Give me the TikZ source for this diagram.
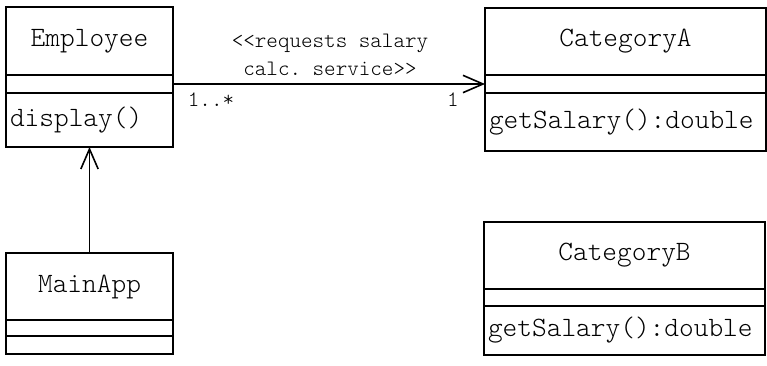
\documentclass[tikz,border=0pt]{standalone}
\usepackage{fontspec}
\setmonofont{Latin Modern Mono Light}
\usetikzlibrary{arrows.meta,positioning}
\tikzset{
  umlhead/.style={draw, line width=1.2pt, inner sep=0pt, outer sep=0pt,
    anchor=north west, font=\ttfamily\fontsize{21}{24}\selectfont},
  umlpart/.style={draw, line width=1.2pt, inner sep=0pt, outer sep=0pt,
    below=0pt of #1},
  umlops/.style={draw, line width=1.2pt, inner ysep=0pt, inner xsep=3pt,
    outer sep=0pt, align=left, below=0pt of #1,
    font=\ttfamily\fontsize{21}{24}\selectfont},
  umllabel/.style={font=\ttfamily\fontsize{16.5}{19}\selectfont, inner sep=0pt},
  umlarrow/.style={line width=1.2pt, -{Straight Barb[length=15pt,width=13pt,line width=1.2pt]}}
}
\begin{document}
\begin{tikzpicture}[x=0.75pt,y=-0.75pt]
  \useasboundingbox (0,0) rectangle (767,366);

  % Drawing class Employee
  \node [umlhead, minimum width=125.25pt, minimum height=51pt] (emp) at (6,7) {Employee};
  \node [umlpart=emp, minimum width=125.25pt, minimum height=13.5pt] (emp-attr) {};
  \node [umlops=emp-attr, text width=119.25pt, minimum height=40.5pt] (emp-ops) {display()};

  % Drawing class MainApp
  \node [umlhead, minimum width=125.25pt, minimum height=50.25pt] (app) at (6,253) {MainApp};
  \node [umlpart=app, minimum width=125.25pt, minimum height=12pt] (app-attr) {};
  \node [umlpart=app-attr, minimum width=125.25pt, minimum height=13.5pt] (app-ops) {};

  % Drawing class CategoryA
  \node [umlhead, minimum width=210.75pt, minimum height=50.25pt] (cata) at (485,8) {CategoryA};
  \node [umlpart=cata, minimum width=210.75pt, minimum height=13.5pt] (cata-attr) {};
  \node [umlops=cata-attr, text width=204.75pt, minimum height=43.5pt] (cata-ops) {getSalary():double};

  % Drawing class CategoryB
  \node [umlhead, minimum width=210.75pt, minimum height=50.25pt] (catb) at (484,222) {CategoryB};
  \node [umlpart=catb, minimum width=210.75pt, minimum height=12.75pt] (catb-attr) {};
  \node [umlops=catb-attr, text width=204.75pt, minimum height=36.75pt] (catb-ops) {getSalary():double};

  % Drawing association Employee -> CategoryA
  \draw [umlarrow] (emp-attr.east) -- (cata-attr.west);
  \node [umllabel, align=center] (req) at (330,55) {<{}<requests salary\\[2pt]calc. service>{}>};
  \node [umllabel] (mult-emp) at (211,100) {1..*};
  \node [umllabel] (mult-cat) at (453,100) {1};

  % Drawing dependency MainApp -> Employee
  \draw [umlarrow] (app.north) -- (emp-ops.south);
\end{tikzpicture}
\end{document}
